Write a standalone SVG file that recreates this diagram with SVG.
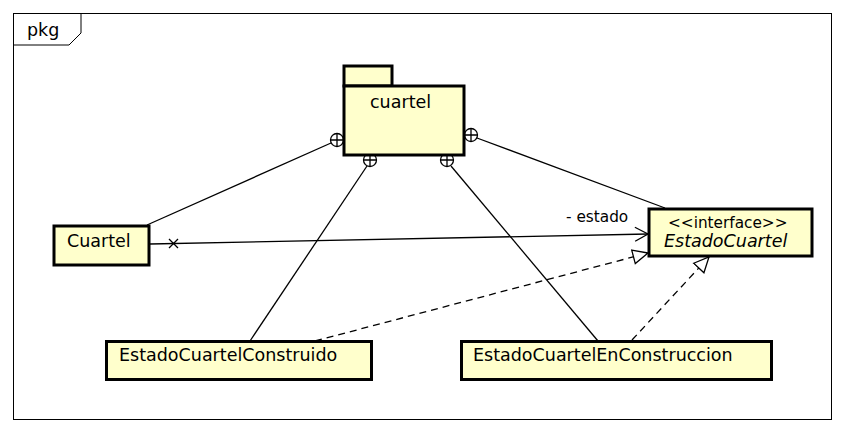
<svg xmlns="http://www.w3.org/2000/svg" width="845" height="433" viewBox="0 0 845 433">
<defs>
<style>
.box{fill:#ffffcc;stroke:#000;stroke-width:3}
.t{font-family:"DejaVu Sans",sans-serif;font-size:17.5px;fill:#000}
.s{font-family:"DejaVu Sans",sans-serif;font-size:15.3px;fill:#000}
.ln{stroke:#000;stroke-width:1.3;fill:none}
.dash{stroke:#000;stroke-width:1.3;fill:none;stroke-dasharray:7 5}
.nest{fill:#fff;stroke:#000;stroke-width:1.3}
</style>
<marker id="open" markerWidth="16" markerHeight="16" refX="14" refY="8" orient="auto" markerUnits="userSpaceOnUse">
<path d="M1,1 L14,8 L1,15" fill="none" stroke="#000" stroke-width="1.3"/>
</marker>
<marker id="tri" markerWidth="18" markerHeight="18" refX="16" refY="9" orient="auto" markerUnits="userSpaceOnUse">
<path d="M1,2 L16,9 L1,16 Z" fill="#fff" stroke="#000" stroke-width="1.3"/>
</marker>
</defs>
<rect width="845" height="433" fill="#fff"/>
<g id="frame">
<rect x="13.5" y="13.5" width="818" height="406" fill="none" stroke="#000" stroke-width="1"/>
<path d="M13.5,45 L69,45 L81,33 L81,13.5" fill="none" stroke="#000" stroke-width="1"/>
<text x="27" y="36" class="t">pkg</text>
</g>
<g id="connectors">
<line class="ln" x1="147" y1="225" x2="331" y2="143"/>
<line class="ln" x1="250" y1="341" x2="367" y2="166"/>
<line class="ln" x1="598" y1="341" x2="451" y2="166"/>
<line class="ln" x1="665" y1="208" x2="477" y2="138"/>
<g class="nest">
<circle cx="337" cy="140" r="6.5"/><path d="M330.5,140 H343.5 M337,133.5 V146.5"/>
<circle cx="370" cy="160" r="6.5"/><path d="M363.5,160 H376.5 M370,153.5 V166.5"/>
<circle cx="447" cy="160" r="6.5"/><path d="M440.5,160 H453.5 M447,153.5 V166.5"/>
<circle cx="471" cy="135" r="6.5"/><path d="M464.5,135 H477.5 M471,128.5 V141.5"/>
</g>
<line class="ln" x1="150" y1="244" x2="648" y2="234" marker-end="url(#open)"/>
<path class="ln" d="M169,239 L178,248 M178,239 L169,248"/>
<text x="566" y="222" class="s">- estado</text>
<line class="dash" x1="315" y1="341" x2="648" y2="253" marker-end="url(#tri)"/>
<line class="dash" x1="632" y1="340" x2="709" y2="257" marker-end="url(#tri)"/>
</g>
<g id="pkg-cuartel">
<rect class="box" x="344" y="66" width="48" height="20"/>
<rect class="box" x="344" y="86" width="120" height="69"/>
<text x="370" y="108" class="t">cuartel</text>
</g>
<g id="Cuartel">
<rect class="box" x="54" y="226" width="95" height="39"/>
<text x="67" y="247" class="t">Cuartel</text>
</g>
<g id="EstadoCuartel">
<rect class="box" x="649" y="209" width="163" height="47"/>
<text x="668" y="228" class="s">&lt;&lt;interface&gt;&gt;</text>
<text x="664" y="247" class="t" font-style="italic">EstadoCuartel</text>
</g>
<g id="EstadoCuartelConstruido">
<rect class="box" x="106.5" y="341.5" width="265" height="38"/>
<text x="119" y="361" class="t">EstadoCuartelConstruido</text>
</g>
<g id="EstadoCuartelEnConstruccion">
<rect class="box" x="461.5" y="341.5" width="310" height="38"/>
<text x="473" y="361" class="t">EstadoCuartelEnConstruccion</text>
</g>
</svg>
